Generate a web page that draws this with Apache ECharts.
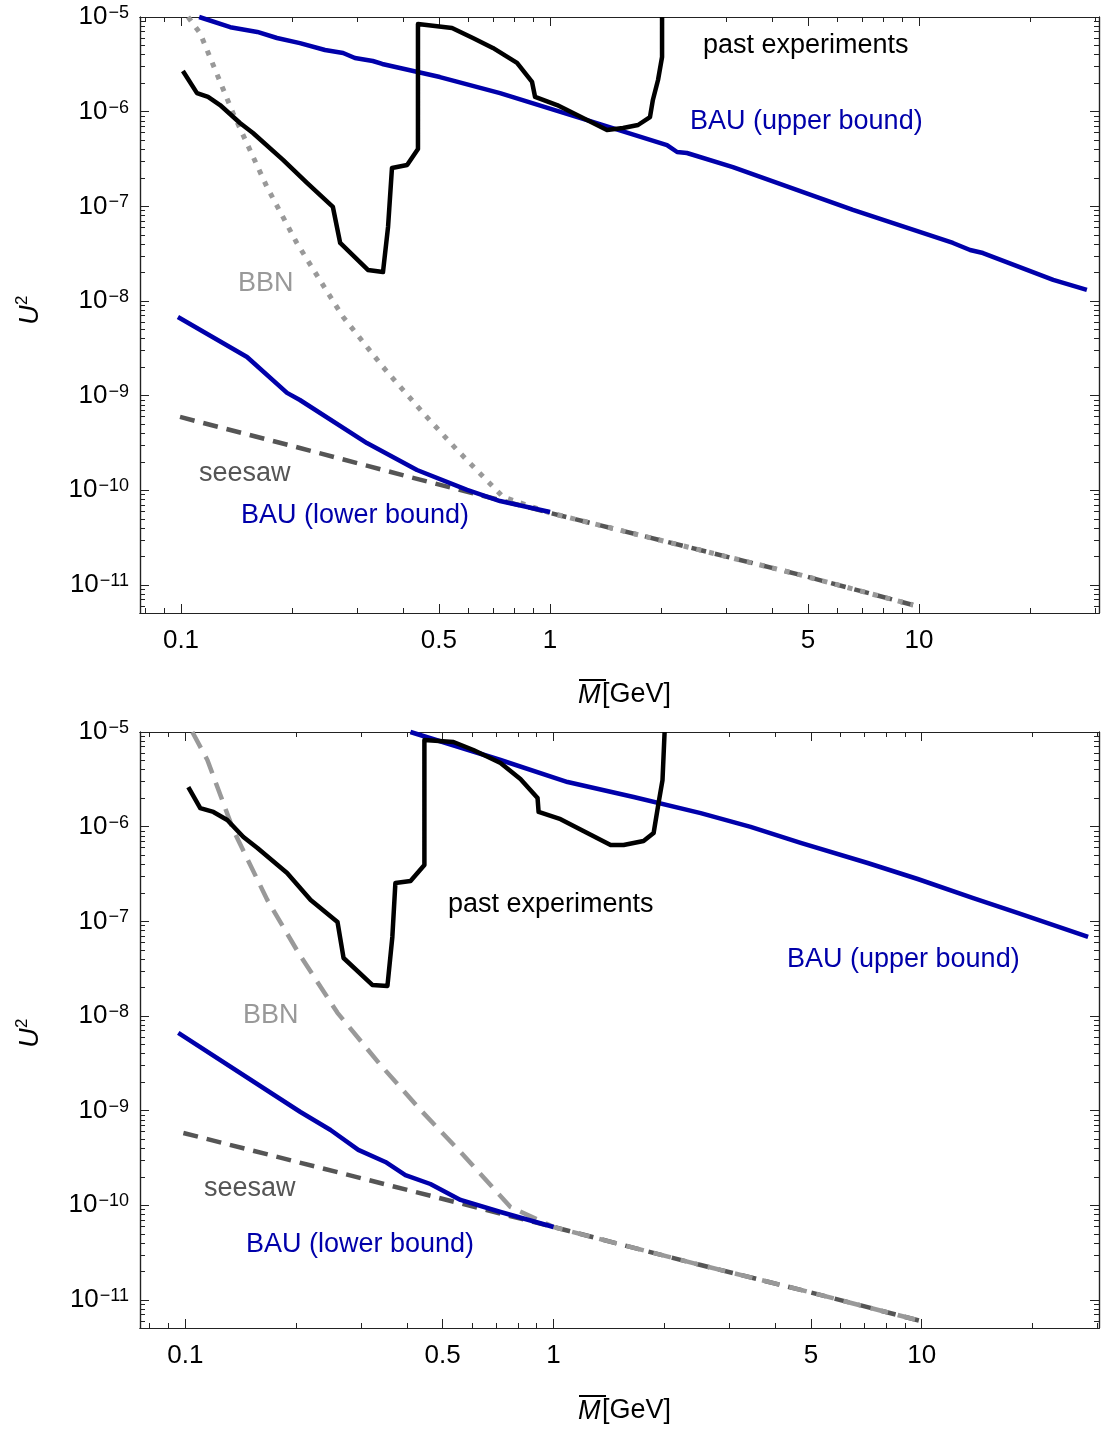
<!DOCTYPE html>
<html><head><meta charset="utf-8">
<script src="https://cdn.jsdelivr.net/npm/echarts@6/dist/echarts.min.js"></script>
<style>html,body{margin:0;padding:0;background:#fff}#c{width:1101px;height:1431px}</style>
</head><body><div id="c"></div>
<script>
// ---------- tick values ----------
const xMajorTicks = [0.1, 0.5, 1, 5, 10];
const xTickLabels = ['0.1', '0.5', '1', '5', '10'];
const xMinorTicks = [0.08, 0.09, 0.2, 0.3, 0.4, 0.6, 0.7, 0.8, 0.9, 2, 3, 4, 6, 7, 8, 9, 20, 30];
const yDecades = [-12, -11, -10, -9, -8, -7, -6, -5];
const yMantissas = [2, 3, 4, 5, 6, 7, 8, 9];
const yMajorTicks = [1e-11, 1e-10, 1e-9, 1e-8, 1e-7, 1e-6, 1e-5];

// ---------- data (upper panel) ----------
const bauUpperTopM = [0.112, 0.136, 0.161, 0.182, 0.210, 0.2456, 0.275, 0.296, 0.331, 0.351, 0.503, 0.732, 1.26, 2.075, 2.21, 2.35, 3.13, 6.62, 12.36, 13.75, 14.9, 23.1, 28.5];
const bauUpperTopU = [1.0e-5, 7.8e-6, 6.95e-6, 6.0e-6, 5.3e-6, 4.48e-6, 4.17e-6, 3.69e-6, 3.43e-6, 3.19e-6, 2.32e-6, 1.57e-6, 8.16e-7, 4.44e-7, 3.75e-7, 3.66e-7, 2.6e-7, 9.15e-8, 4.1e-8, 3.46e-8, 3.21e-8, 1.67e-8, 1.31e-8];

const pastTopM = [0.1012, 0.1105, 0.1184, 0.1276, 0.1445, 0.1567, 0.189, 0.2195, 0.258, 0.270, 0.321, 0.3527, 0.364, 0.373, 0.410, 0.4387, 0.4387, 0.5425, 0.618, 0.70, 0.814, 0.894, 0.911, 1.045, 1.26, 1.427, 1.577, 1.732, 1.866, 1.90, 1.962, 2.012, 2.012];
const pastTopU = [2.69e-6, 1.57e-6, 1.43e-6, 1.175e-6, 7.59e-7, 5.95e-7, 3.09e-7, 1.77e-7, 9.85e-8, 4.1e-8, 2.13e-8, 2.02e-8, 6.05e-8, 2.54e-7, 2.73e-7, 4.04e-7, 8.44e-6, 7.65e-6, 6.0e-6, 4.71e-6, 3.27e-6, 2.06e-6, 1.43e-6, 1.175e-6, 8.16e-7, 6.4e-7, 6.72e-7, 7.23e-7, 8.78e-7, 1.33e-6, 2.16e-6, 3.78e-6, 1.0e-5];

const bbnTopM = [0.1045, 0.1126, 0.1383, 0.171, 0.206, 0.250, 0.275, 0.3527, 0.453, 0.560, 0.746, 1.0, 2.55, 4.76, 9.63];
const bbnTopU = [1.0e-5, 6.78e-6, 9.68e-7, 1.6e-7, 4.1e-8, 1.22e-8, 6.78e-9, 2.01e-9, 6.56e-10, 2.67e-10, 8.5e-11, 5.77e-11, 2.34e-11, 1.28e-11, 6.15e-12];

const seesawM = [0.0994, 0.210, 0.436, 1.0, 2.55, 4.76, 9.63];
const seesawU = [5.96e-10, 2.8e-10, 1.32e-10, 5.77e-11, 2.34e-11, 1.28e-11, 6.15e-12];

const bauLowerTopM = [0.0981, 0.151, 0.1938, 0.210, 0.319, 0.436, 0.596, 0.732, 1.0];
const bauLowerTopU = [6.78e-9, 2.56e-9, 1.07e-9, 9.0e-10, 3.16e-10, 1.64e-10, 1.01e-10, 7.71e-11, 5.9e-11];

// ---------- data (lower panel) ----------
const bauUpperBotM = [0.4087, 0.718, 1.092, 1.65, 2.51, 3.43, 4.69, 7.13, 9.75, 13.8, 18.2, 28.3];
const bauUpperBotU = [1.0e-5, 5.06e-6, 2.96e-6, 2.06e-6, 1.39e-6, 9.93e-7, 6.73e-7, 4.13e-7, 2.8e-7, 1.76e-7, 1.23e-7, 6.84e-8];

const pastBotM = [0.1019, 0.1098, 0.1192, 0.130, 0.1438, 0.157, 0.189, 0.219, 0.259, 0.269, 0.322, 0.354, 0.365, 0.372, 0.409, 0.446, 0.446, 0.535, 0.606, 0.718, 0.813, 0.905, 0.911, 1.045, 1.429, 1.55, 1.756, 1.87, 1.929, 1.977, 2.003];
const pastBotU = [2.62e-6, 1.57e-6, 1.43e-6, 1.175e-6, 7.78e-7, 5.95e-7, 3.24e-7, 1.68e-7, 9.84e-8, 4.1e-8, 2.13e-8, 2.08e-8, 6.84e-8, 2.54e-7, 2.67e-7, 3.94e-7, 8.23e-6, 7.84e-6, 6.45e-6, 4.71e-6, 3.19e-6, 2.01e-6, 1.43e-6, 1.2e-6, 6.4e-7, 6.4e-7, 7.06e-7, 8.57e-7, 1.78e-6, 3.11e-6, 1.0e-5];

const bbnBotM = [0.1045, 0.1148, 0.135, 0.167, 0.203, 0.259, 0.339, 0.435, 0.559, 0.764, 1.0, 2.51, 4.69, 9.94];
const bbnBotU = [1.0e-5, 5.06e-6, 9.23e-7, 1.68e-7, 4.64e-8, 1.08e-8, 3.04e-9, 1.02e-9, 3.66e-10, 9.6e-11, 5.9e-11, 2.34e-11, 1.28e-11, 6.0e-12];

const seesawBotM = [0.0988, 0.2015, 1.0, 2.51, 4.69, 9.94];
const seesawBotU = [5.81e-10, 2.87e-10, 5.9e-11, 2.34e-11, 1.28e-11, 6.0e-12];

const bauLowerBotM = [0.0957, 0.2054, 0.248, 0.295, 0.3495, 0.396, 0.463, 0.559, 0.718, 1.0];
const bauLowerBotU = [6.62e-9, 9.68e-10, 6.25e-10, 3.85e-10, 2.87e-10, 2.09e-10, 1.68e-10, 1.14e-10, 8.5e-11, 5.9e-11];

// ---------- build ----------
const FONT = '"Liberation Sans", Arial, Helvetica, sans-serif';
const BLUE = '#0000aa';
const yMinorTicks = [];
yDecades.forEach(d => yMantissas.forEach(m => yMinorTicks.push(Number((m + 'e' + d)))));
const pairs = (xs, ys) => xs.map((x, i) => [x, ys[i]]);

const panels = [
  { top: 17, xmin: 0.07743, xmax: 30.74 },
  { top: 732, xmin: 0.07533, xmax: 30.3 }
];
const YMIN = 5.06e-12, YMAX = 1e-5;

const grids = [], xAxes = [], yAxes = [];
const axisLineStyle = { color: '#222', width: 1.2 };
const tickLine = { color: '#222', width: 1 };
panels.forEach((p, g) => {
  grids.push({ left: 140, right: 2, top: p.top, height: 596, containLabel: false });
  const baseX = { type: 'log', gridIndex: g, min: p.xmin, max: p.xmax, splitLine: { show: false },
    axisLine: { show: true, lineStyle: axisLineStyle } };
  const baseY = { type: 'log', gridIndex: g, min: YMIN, max: YMAX, splitLine: { show: false },
    axisLine: { show: true, lineStyle: axisLineStyle } };
  xAxes.push(Object.assign({}, baseX, { position: 'bottom',
    axisTick: { show: true, inside: true, length: 9, lineStyle: tickLine, customValues: xMajorTicks },
    axisLabel: { show: true, customValues: xMajorTicks, margin: 15, fontSize: 26, fontFamily: FONT, color: '#000',
      formatter: v => { const i = xMajorTicks.findIndex(t => Math.abs(t - v) / t < 1e-6); return i >= 0 ? xTickLabels[i] : ''; } } }));
  xAxes.push(Object.assign({}, baseX, { position: 'bottom',
    axisTick: { show: true, inside: true, length: 5, lineStyle: tickLine, customValues: xMinorTicks },
    axisLabel: { show: false } }));
  xAxes.push(Object.assign({}, baseX, { position: 'top',
    axisTick: { show: true, inside: true, length: 9, lineStyle: tickLine, customValues: xMajorTicks },
    axisLabel: { show: false } }));
  xAxes.push(Object.assign({}, baseX, { position: 'top',
    axisTick: { show: true, inside: true, length: 5, lineStyle: tickLine, customValues: xMinorTicks },
    axisLabel: { show: false } }));
  yAxes.push(Object.assign({}, baseY, { position: 'left',
    axisTick: { show: true, inside: true, length: 9, lineStyle: tickLine, customValues: yMajorTicks },
    axisLabel: { show: true, customValues: yMajorTicks, margin: 11, fontFamily: FONT, color: '#000',
      formatter: v => '{b|10}{s|\u2212' + Math.abs(Math.round(Math.log10(v))) + '}',
      rich: {
        b: { fontSize: 26, lineHeight: 26, fontFamily: FONT, color: '#000', verticalAlign: 'bottom' },
        s: { fontSize: 18, lineHeight: 18, fontFamily: FONT, color: '#000', verticalAlign: 'top', padding: [0, 0, 11, 1] }
      } } }));
  yAxes.push(Object.assign({}, baseY, { position: 'left',
    axisTick: { show: true, inside: true, length: 5, lineStyle: tickLine, customValues: yMinorTicks },
    axisLabel: { show: false } }));
  yAxes.push(Object.assign({}, baseY, { position: 'right',
    axisTick: { show: true, inside: true, length: 9, lineStyle: tickLine, customValues: yMajorTicks },
    axisLabel: { show: false } }));
  yAxes.push(Object.assign({}, baseY, { position: 'right',
    axisTick: { show: true, inside: true, length: 5, lineStyle: tickLine, customValues: yMinorTicks },
    axisLabel: { show: false } }));
});

function line(name, g, data, color, width, dash, z) {
  return { type: 'line', name, xAxisIndex: g * 4, yAxisIndex: g * 4, data, showSymbol: false, symbol: 'none',
    clip: false, z: z, silent: true,
    lineStyle: { color, width, type: dash || 'solid', cap: 'butt', join: 'round' } };
}

const series = [
  line('seesaw', 0, pairs(seesawM, seesawU), '#555555', 4.5, [15, 9], 2),
  line('BBN', 0, pairs(bbnTopM, bbnTopU), '#999999', 5, [5, 8], 3),
  line('BAU lower', 0, pairs(bauLowerTopM, bauLowerTopU), BLUE, 4.5, null, 4),
  line('BAU upper', 0, pairs(bauUpperTopM, bauUpperTopU), BLUE, 4.5, null, 4),
  line('past experiments', 0, pairs(pastTopM, pastTopU), '#000000', 4.5, null, 5),

  line('seesaw', 1, pairs(seesawBotM, seesawBotU), '#555555', 4.5, [15, 9], 2),
  line('BBN', 1, pairs(bbnBotM, bbnBotU), '#999999', 4.5, [18, 10], 3),
  line('BAU lower', 1, pairs(bauLowerBotM, bauLowerBotU), BLUE, 4.5, null, 4),
  line('BAU upper', 1, pairs(bauUpperBotM, bauUpperBotU), BLUE, 4.5, null, 4),
  line('past experiments', 1, pairs(pastBotM, pastBotU), '#000000', 4.5, null, 5)
];

function absText(x, y, s, color) {
  return { type: 'text', x: x, y: y, z: 100,
    style: { text: s, fill: color, font: '27px ' + FONT, verticalAlign: 'middle', align: 'left' } };
}
const graphics = [
  absText(703, 46, 'past experiments', '#000'),
  absText(690, 122, 'BAU (upper bound)', BLUE),
  absText(238, 284, 'BBN', '#999999'),
  absText(199, 474, 'seesaw', '#555555'),
  absText(241, 516, 'BAU (lower bound)', BLUE),
  absText(448, 905, 'past experiments', '#000'),
  absText(787, 960, 'BAU (upper bound)', BLUE),
  absText(243, 1016, 'BBN', '#999999'),
  absText(204, 1189, 'seesaw', '#555555'),
  absText(246, 1245, 'BAU (lower bound)', BLUE)
];
// axis titles
[{ y: 695, uy: 307 }, { y: 1411, uy: 1030 }].forEach(t => {
  graphics.push({ type: 'text', x: 578, y: t.y, z: 100,
    style: { text: 'M', fill: '#000', font: 'italic 27px ' + FONT, verticalAlign: 'middle', align: 'left' } });
  graphics.push({ type: 'text', x: 602, y: t.y, z: 100,
    style: { text: '[GeV]', fill: '#000', font: '27px ' + FONT, verticalAlign: 'middle', align: 'left' } });
  graphics.push({ type: 'line', z: 100, shape: { x1: 579, y1: t.y - 15, x2: 606, y2: t.y - 15 },
    style: { stroke: '#000', lineWidth: 2 } });
  graphics.push({ type: 'group', x: 30, y: t.uy, rotation: Math.PI / 2, z: 100, children: [
    { type: 'text', x: -8, y: 0,
      style: { text: 'U', fill: '#000', font: 'italic 27px ' + FONT, verticalAlign: 'middle', align: 'center' } },
    { type: 'text', x: 2, y: -8,
      style: { text: '2', fill: '#000', font: '17px ' + FONT, verticalAlign: 'middle', align: 'left' } }
  ] });
});

const chart = echarts.init(document.getElementById('c'), null, { renderer: 'canvas' });
chart.setOption({
  animation: false,
  backgroundColor: '#fff',
  grid: grids,
  xAxis: xAxes,
  yAxis: yAxes,
  series: series,
  graphic: graphics
});
</script>
</body></html>
